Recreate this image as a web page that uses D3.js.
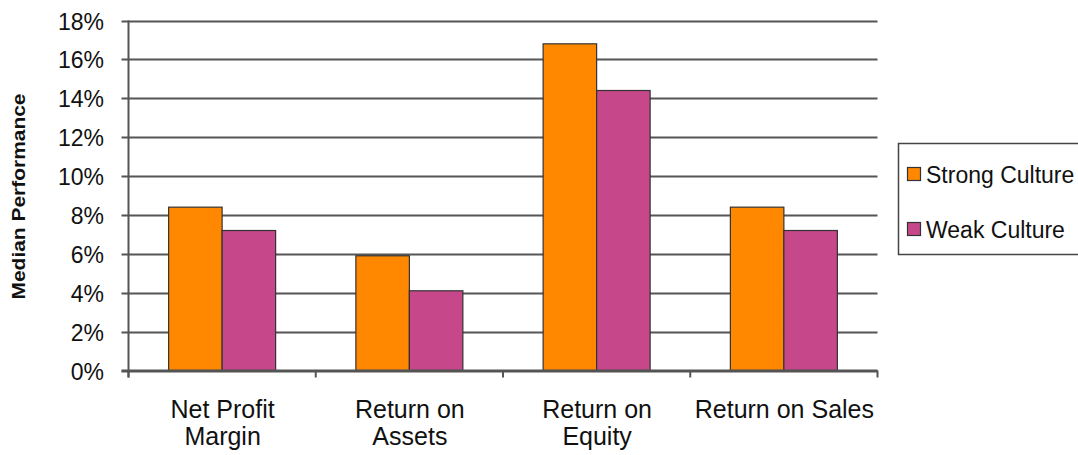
<!DOCTYPE html>
<html><head><meta charset="utf-8">
<script src="https://cdn.jsdelivr.net/npm/d3@7"></script>
<style>body{margin:0;background:#fff}svg{display:block}text{font-family:"Liberation Sans",Arial,sans-serif}</style>
</head><body><svg id="c" width="1078" height="455"></svg>
<script>
const categories = [["Net Profit","Margin"],["Return on","Assets"],["Return on","Equity"],["Return on Sales"]];
const seriesNames = ["Strong Culture","Weak Culture"];
const strongValues = [8.4, 5.9, 16.8, 8.4];
const weakValues = [7.2, 4.1, 14.4, 7.2];
const yTicks = [0,2,4,6,8,10,12,14,16,18];
const colors = ["#FF8800","#C6488A"];

(function(){
const svg = d3.select("#c");
const pl = 128.5, pr = 877.5, pt = 20.5, pb = 370.5;
const x = d3.scaleBand().domain(d3.range(categories.length)).range([pl,pr]).paddingInner(0).paddingOuter(0);
const xs = d3.scaleBand().domain([0,1]).range([0,x.bandwidth()]).paddingInner(0).paddingOuter(0.75);
const y = d3.scaleLinear().domain([0,18]).range([pb,pt]);

// gridlines
svg.append("g").selectAll("line").data(yTicks).join("line")
  .attr("x1",pl-7).attr("x2",pr).attr("y1",d=>Math.round(y(d))+0.5).attr("y2",d=>Math.round(y(d))+0.5)
  .attr("stroke","#555").attr("stroke-width",2);

// y labels
svg.append("g").selectAll("text").data(yTicks).join("text")
  .attr("x",104).attr("y",d=>y(d)+9).attr("text-anchor","end")
  .attr("font-size",23).attr("fill","#111").text(d=>d+"%");

// bars
const series = [strongValues, weakValues];
series.forEach((vals,si)=>{
  svg.append("g").selectAll("rect").data(vals).join("rect")
    .attr("x",(d,i)=>x(i)+xs(si)).attr("width",xs.bandwidth())
    .attr("y",d=>y(d)).attr("height",d=>pb-y(d))
    .attr("fill",colors[si]).attr("stroke","#333").attr("stroke-width",1.2);
});

// axes lines
svg.append("line").attr("x1",pl).attr("x2",pl).attr("y1",pt).attr("y2",pb+7).attr("stroke","#555").attr("stroke-width",2);
svg.append("line").attr("x1",pl-7).attr("x2",pr).attr("y1",pb).attr("y2",pb).attr("stroke","#555").attr("stroke-width",2);
svg.append("g").selectAll("line").data(d3.range(categories.length+1)).join("line")
  .attr("x1",d=>pl+d*x.bandwidth()).attr("x2",d=>pl+d*x.bandwidth())
  .attr("y1",pb).attr("y2",pb+7).attr("stroke","#555").attr("stroke-width",2);

// x labels
categories.forEach((lines,i)=>{
  const cx = x(i)+x.bandwidth()/2 + 0.5;
  const t = svg.append("text").attr("x",cx).attr("y",418).attr("text-anchor","middle")
    .attr("font-size",25).attr("fill","#111");
  lines.forEach((l,j)=>t.append("tspan").attr("x",cx).attr("dy",j?27:0).text(l));
});

// y title
svg.append("text").attr("transform","translate(25,196.5) rotate(-90)").attr("text-anchor","middle")
  .attr("font-size",18).attr("font-weight","bold").attr("fill","#111")
  .attr("textLength",206).attr("lengthAdjust","spacingAndGlyphs").text("Median Performance");

// legend
svg.append("rect").attr("x",898.5).attr("y",143.5).attr("width",190).attr("height",111)
  .attr("fill","#fff").attr("stroke","#444").attr("stroke-width",1.5);
seriesNames.forEach((n,i)=>{
  const base = 183 + i*55;
  svg.append("rect").attr("x",907.5).attr("y",base-15.5).attr("width",13).attr("height",13)
    .attr("fill",colors[i]).attr("stroke","#333").attr("stroke-width",1.2);
  svg.append("text").attr("x",926).attr("y",base).attr("font-size",23).attr("fill","#111").text(n);
});
})();
</script></body></html>
